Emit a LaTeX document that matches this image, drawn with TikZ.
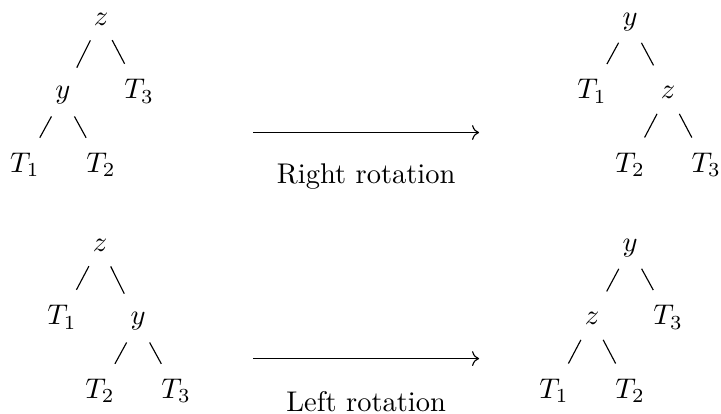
\documentclass[tikz,border=0pt]{standalone}
\usepackage{amsmath,amssymb}
\usepackage{tikz}
\usetikzlibrary{positioning,arrows.meta}

\begin{document}
\begin{tikzpicture}[>={To}, lbl/.style={anchor=base, inner sep=2pt},
  edge/.style={shorten <=8.4pt, shorten >=10.9pt}]
\useasboundingbox (0,0) rectangle (8.9,5.11);
% before right rotation
\node[lbl] (az) at (1.247,4.80) {$z$};
\node[lbl] (ay) at ([shift={(-0.47,-0.91)}]az.base) {$y$};
\node[lbl] (a3) at ([shift={(0.47,-0.91)}]az.base) {$T_3$};
\node[lbl] (a1) at ([shift={(-0.47,-0.91)}]ay.base) {$T_1$};
\node[lbl] (a2) at ([shift={(0.47,-0.91)}]ay.base) {$T_2$};
% after right rotation
\node[lbl] (by) at (7.778,4.80) {$y$};
\node[lbl] (b1) at ([shift={(-0.47,-0.91)}]by.base) {$T_1$};
\node[lbl] (bz) at ([shift={(0.47,-0.91)}]by.base) {$z$};
\node[lbl] (b2) at ([shift={(-0.47,-0.91)}]bz.base) {$T_2$};
\node[lbl] (b3) at ([shift={(0.47,-0.91)}]bz.base) {$T_3$};
% before left rotation
\node[lbl] (cz) at (1.235,2.01) {$z$};
\node[lbl] (c1) at ([shift={(-0.47,-0.91)}]cz.base) {$T_1$};
\node[lbl] (cy) at ([shift={(0.47,-0.91)}]cz.base) {$y$};
\node[lbl] (c2) at ([shift={(-0.47,-0.91)}]cy.base) {$T_2$};
\node[lbl] (c3) at ([shift={(0.47,-0.91)}]cy.base) {$T_3$};
% after left rotation
\node[lbl] (dy) at (7.778,2.01) {$y$};
\node[lbl] (dz) at ([shift={(-0.47,-0.91)}]dy.base) {$z$};
\node[lbl] (d3) at ([shift={(0.47,-0.91)}]dy.base) {$T_3$};
\node[lbl] (d1) at ([shift={(-0.47,-0.91)}]dz.base) {$T_1$};
\node[lbl] (d2) at ([shift={(0.47,-0.91)}]dz.base) {$T_2$};
\foreach \p/\c in {az/ay, az/a3, ay/a1, ay/a2, by/b1, by/bz, bz/b2, bz/b3,
  cz/c1, cz/cy, cy/c2, cy/c3, dy/dz, dy/d3, dz/d1, dz/d2}
  \draw[edge] (\p.center) -- (\c.center);
% rotations
\coordinate (ra) at (3.123,3.474); \coordinate (rb) at (5.914,3.474);
\coordinate (la) at (3.123,0.684); \coordinate (lb) at (5.914,0.684);
\node[lbl] (rl) at (4.52,2.85) {Right rotation};
\node[lbl] (ll) at (4.52,0.025) {Left rotation};
\draw[->] (ra) -- (rb);
\draw[->] (la) -- (lb);
\end{tikzpicture}
\end{document}
